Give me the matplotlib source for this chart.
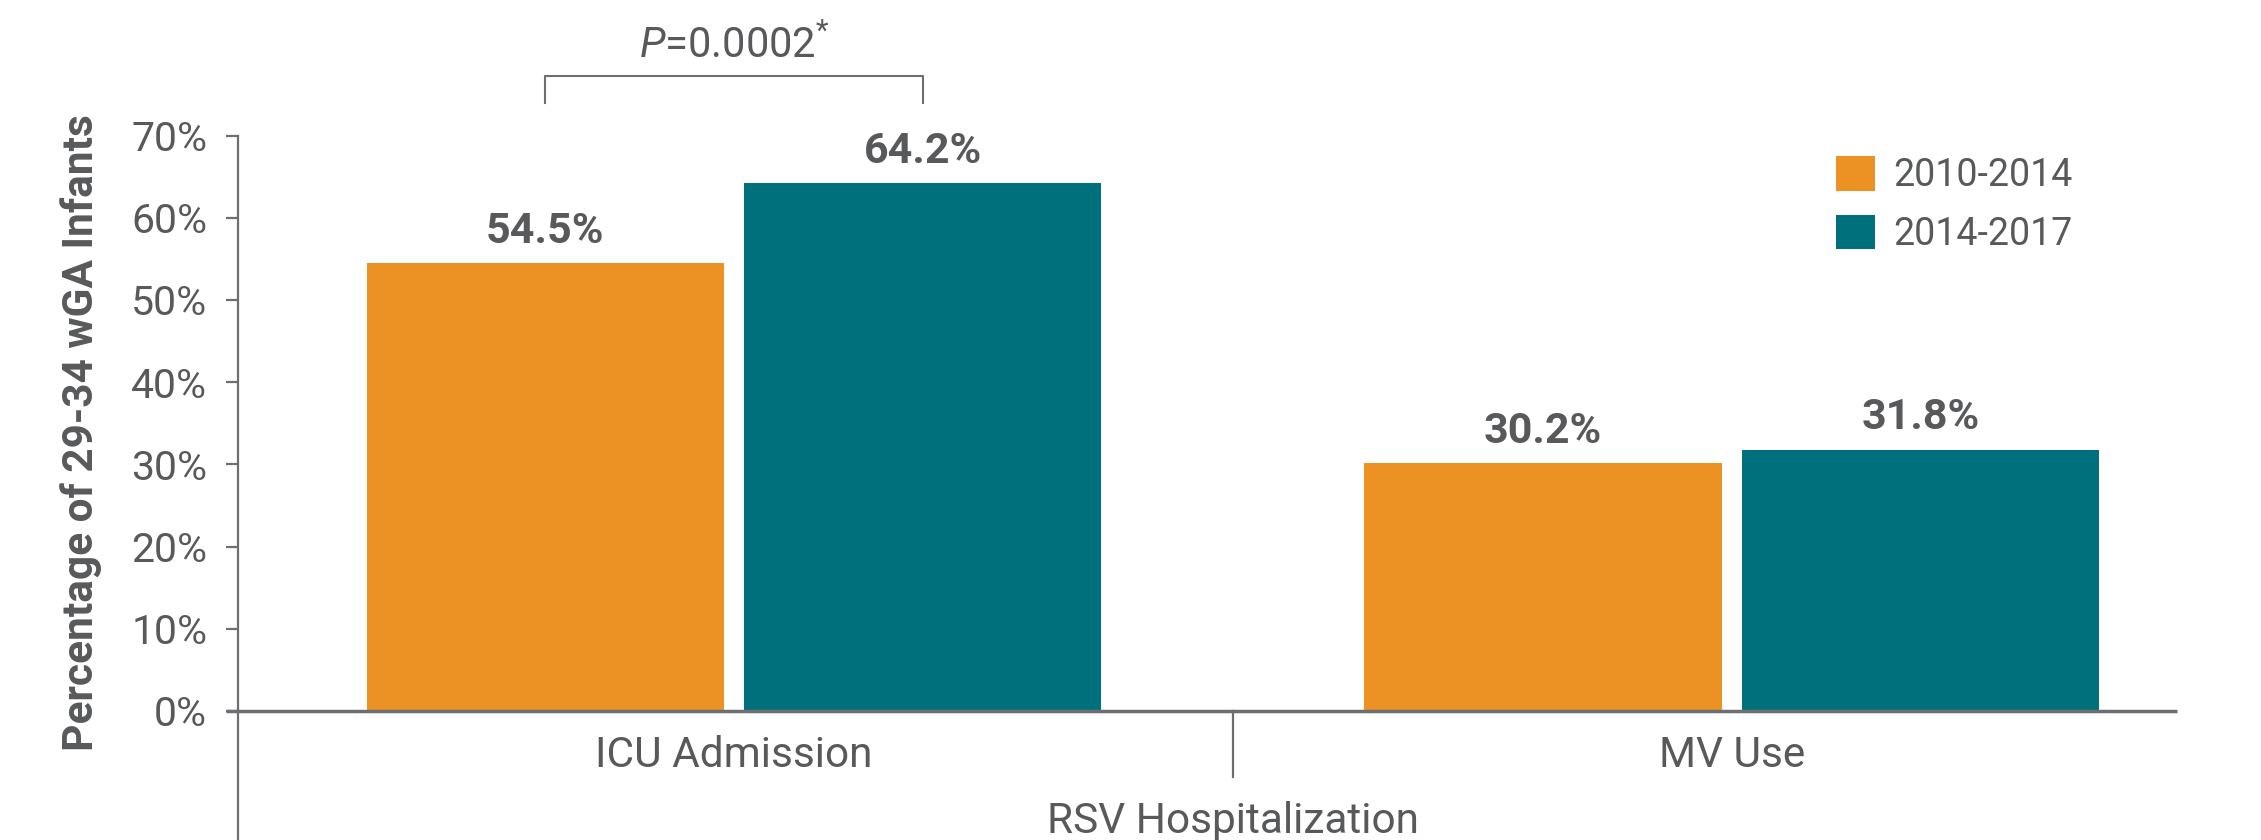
import matplotlib.pyplot as plt
import numpy as np

plt.rcParams['font.family'] = ['Roboto', 'DejaVu Sans']
plt.rcParams['mathtext.fontset'] = 'custom'
plt.rcParams['mathtext.rm'] = 'Roboto'
plt.rcParams['mathtext.it'] = 'Roboto:italic'

# data
categories = ['ICU Admission', 'MV Use']
group_label = 'RSV Hospitalization'
series_names = ['2010-2014', '2014-2017']
vals_2010 = [54.5, 30.2]
vals_2014 = [64.2, 31.8]
yticks = [0, 10, 20, 30, 40, 50, 60, 70]
p_text = r'$\it{P}$=0.0002$^{*}$'

orange = '#EC9123'
teal = '#00717C'
grey = '#58595B'
axis_grey = '#6D6E71'

fig = plt.figure(figsize=(22.61, 8.4), dpi=100)
ax = fig.add_axes([0.1053, 0.1536, 0.8577, 0.685])

x = np.arange(len(categories))
w = 0.358
off = 0.1893

b1 = ax.bar(x - off, vals_2010, w, color=orange, label=series_names[0])
b2 = ax.bar(x + off, vals_2014, w, color=teal, label=series_names[1])

for bars in (b1, b2):
    ax.bar_label(bars, labels=[f'{v:.1f}%' for v in bars.datavalues],
                 padding=8, fontsize=31, fontweight='bold', color=grey)

ax.set_xlim(-0.497, 1.4465)
ax.set_ylim(0, 70)
ax.set_yticks(yticks)
ax.set_yticklabels([f'{t}%' for t in yticks])
ax.tick_params(axis='y', length=8.3, width=1.6, color=axis_grey, labelsize=29.5,
               labelcolor=grey, pad=14)
ax.set_xticks(x)
ax.set_xticklabels(categories)
ax.tick_params(axis='x', length=0, labelsize=30.5, labelcolor=grey, pad=17)

for s in ['top', 'right', 'bottom']:
    ax.spines[s].set_visible(False)
ax.spines['left'].set_color(axis_grey)
ax.spines['left'].set_linewidth(1.6)

# baseline
ax.plot([-0.006, 1], [0, 0], transform=ax.transAxes, color=axis_grey,
        lw=2.5, clip_on=False, solid_capstyle='butt')
# group divider and left line under the axis
ax.plot([0.5, 0.5], [0, -8.0], color=axis_grey, lw=1.6, clip_on=False)
ax.plot([-0.497, -0.497], [0, -16], color=axis_grey, lw=1.6, clip_on=False)
ax.text(0.5, -13.4, group_label, ha='center', va='center', fontsize=30.5,
        color=grey, clip_on=False)

# significance bracket
ax.plot([-off, -off, off, off], [73.97, 77.25, 77.25, 73.97], color=axis_grey,
        lw=1.5, clip_on=False)
ax.text(0, 79.4, p_text, ha='center', va='baseline', fontsize=30, color=grey,
        clip_on=False)

fig.text(81 / 2261, 1 - 433 / 840, 'Percentage of 29-34 wGA Infants',
         rotation=90, ha='center', va='center', fontsize=30.5,
         fontweight='bold', color=grey)

fig.legend(handles=[b1, b2], loc='upper left', bbox_to_anchor=(0.812, 0.814),
           frameon=False, fontsize=27, handlelength=1.04, handleheight=1.04,
           handletextpad=0.5, labelspacing=0.55, borderpad=0,
           borderaxespad=0, labelcolor=grey)

fig.savefig('out.png', dpi=100)
